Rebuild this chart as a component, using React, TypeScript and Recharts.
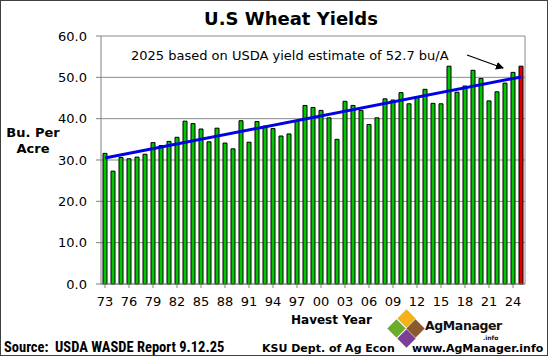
import { BarChart, Bar, Cell, XAxis, YAxis, CartesianGrid, ReferenceLine } from 'recharts'

// harvest years and US wheat yields, bu/acre
const years = [
  '1973', '1974', '1975', '1976', '1977', '1978', '1979', '1980', '1981', '1982',
  '1983', '1984', '1985', '1986', '1987', '1988', '1989', '1990', '1991', '1992',
  '1993', '1994', '1995', '1996', '1997', '1998', '1999', '2000', '2001', '2002',
  '2003', '2004', '2005', '2006', '2007', '2008', '2009', '2010', '2011', '2012',
  '2013', '2014', '2015', '2016', '2017', '2018', '2019', '2020', '2021', '2022',
  '2023', '2024', '2025'
]
const yields = [
  31.6, 27.3, 30.6, 30.3, 30.7, 31.4, 34.2, 33.5, 34.5, 35.5,
  39.4, 38.8, 37.5, 34.4, 37.7, 34.1, 32.7, 39.5, 34.3, 39.3,
  38.2, 37.6, 35.8, 36.3, 39.5, 43.2, 42.7, 42.0, 40.2, 35.0,
  44.2, 43.2, 42.0, 38.6, 40.2, 44.8, 44.5, 46.3, 43.6, 45.3,
  47.1, 43.7, 43.6, 52.7, 46.4, 47.9, 51.7, 49.7, 44.3, 46.5,
  48.6, 51.2, 52.7
]
const estimateYear = '2025'
const yTicks = [0, 10, 20, 30, 40, 50, 60]
// linear trend, read at its two ends
const trendYears = ['1973', '2025']
const trendValues = [30.5, 50.1]

const chartData = years.map((year, i) => ({ year, value: yields[i] }))

const font = '"DejaVu Sans", Verdana, sans-serif'

const Logo = () => {
  const piece = (cx: number, cy: number, color: string) => (
    <div
      style={{
        position: 'absolute',
        left: cx - 6.5,
        top: cy - 6.5,
        width: 13,
        height: 13,
        background: color,
        transform: 'rotate(45deg)'
      }}
    />
  )
  return (
    <>
      {piece(405, 317, '#f2b21a')}
      {piece(395.5, 327, '#6aad2a')}
      {piece(414.5, 327, '#8a5a2e')}
      {piece(405, 337, '#7b3f96')}
      <div
        style={{
          position: 'absolute',
          left: 424,
          top: 317,
          fontFamily: font,
          fontWeight: 700,
          fontSize: 12.5,
          letterSpacing: -0.4,
          color: '#111'
        }}
      >
        AgManager
      </div>
      <div
        style={{
          position: 'absolute',
          left: 482,
          top: 333,
          fontFamily: font,
          fontWeight: 700,
          fontSize: 6,
          color: '#111'
        }}
      >
        .info
      </div>
    </>
  )
}

export default function App() {
  return (
    <div
      style={{
        position: 'absolute',
        left: 0,
        top: 0,
        width: 548,
        height: 356,
        background: '#fff',
        boxSizing: 'border-box',
        border: '1px solid #404040',
        overflow: 'hidden'
      }}
    >
      <div style={{ position: 'absolute', left: -1, top: -1 }}>
        <BarChart
          width={548}
          height={356}
          data={chartData}
          margin={{ top: 36, right: 23, left: 0, bottom: 42 }}
          style={{ fontFamily: font }}
        >
          <CartesianGrid vertical={false} stroke="#8c8c8c" />
          <XAxis
            dataKey="year"
            interval={2}
            tickFormatter={(y: string) => y.slice(2)}
            tick={{ fontSize: 13, fill: '#000' }}
            tickSize={4}
            tickMargin={9}
            height={30}
            axisLine={{ stroke: '#808080' }}
            tickLine={{ stroke: '#808080' }}
          />
          <YAxis
            domain={[0, 60]}
            ticks={yTicks}
            tickFormatter={(v: number) => v.toFixed(1)}
            tick={{ fontSize: 13, fill: '#000' }}
            tickSize={5}
            tickMargin={9}
            width={101}
            axisLine={{ stroke: '#808080' }}
            tickLine={{ stroke: '#808080' }}
          />
          <ReferenceLine x={estimateYear} position="end" stroke="#8c8c8c" />
          <Bar dataKey="value" barSize={4} stroke="#000" strokeWidth={1} isAnimationActive={false}>
            {chartData.map((d) => (
              <Cell key={d.year} fill={d.year === estimateYear ? '#dd0000' : '#00c800'} />
            ))}
          </Bar>
          <ReferenceLine
            segment={[
              { x: trendYears[0], y: trendValues[0] },
              { x: trendYears[1], y: trendValues[1] }
            ]}
            stroke="#0000e6"
            strokeWidth={3}
          />
        </BarChart>
      </div>

      <div
        style={{
          position: 'absolute',
          left: 0,
          width: 580,
          top: 7,
          textAlign: 'center',
          fontFamily: font,
          fontWeight: 700,
          fontSize: 18
        }}
      >
        U.S Wheat Yields
      </div>

      <div
        style={{
          position: 'absolute',
          left: 0,
          width: 64,
          top: 124,
          textAlign: 'center',
          fontFamily: font,
          fontWeight: 700,
          fontSize: 13,
          lineHeight: '16px'
        }}
      >
        Bu. Per
        <br />
        Acre
      </div>

      <div
        style={{
          position: 'absolute',
          left: 130,
          top: 47,
          fontFamily: font,
          fontSize: 13,
          whiteSpace: 'nowrap'
        }}
      >
        2025 based on USDA yield estimate of 52.7 bu/A
      </div>

      <svg
        width={548}
        height={356}
        style={{ position: 'absolute', left: -1, top: -1, pointerEvents: 'none' }}
      >
        <defs>
          <marker id="head" markerWidth="8" markerHeight="8" refX="7" refY="4" orient="auto" markerUnits="userSpaceOnUse">
            <path d="M0,0 L8,4 L0,8 z" fill="#000" />
          </marker>
        </defs>
        <line x1={467} y1={55} x2={503} y2={68} stroke="#000" strokeWidth={1.3} markerEnd="url(#head)" />
      </svg>

      <div
        style={{
          position: 'absolute',
          left: 290,
          top: 312,
          fontFamily: font,
          fontWeight: 700,
          fontSize: 12
        }}
      >
        Havest Year
      </div>

      <Logo />

      <div
        style={{
          position: 'absolute',
          left: 3,
          top: 338,
          fontFamily: '"Liberation Sans Narrow", "Roboto Condensed", Roboto, sans-serif',
          fontWeight: 700,
          fontSize: 14.5,
          whiteSpace: 'pre'
        }}
      >
        {'Source:  USDA WASDE Report 9.12.25'}
      </div>

      <div
        style={{
          position: 'absolute',
          left: 261,
          top: 341,
          fontFamily: font,
          fontWeight: 700,
          fontSize: 11,
          whiteSpace: 'pre'
        }}
      >
        KSU Dept. of Ag Econ
      </div>
      <div
        style={{
          position: 'absolute',
          left: 411,
          top: 341,
          fontFamily: font,
          fontWeight: 700,
          fontSize: 11,
          whiteSpace: 'pre'
        }}
      >
        www.AgManager.info
      </div>
    </div>
  )
}
